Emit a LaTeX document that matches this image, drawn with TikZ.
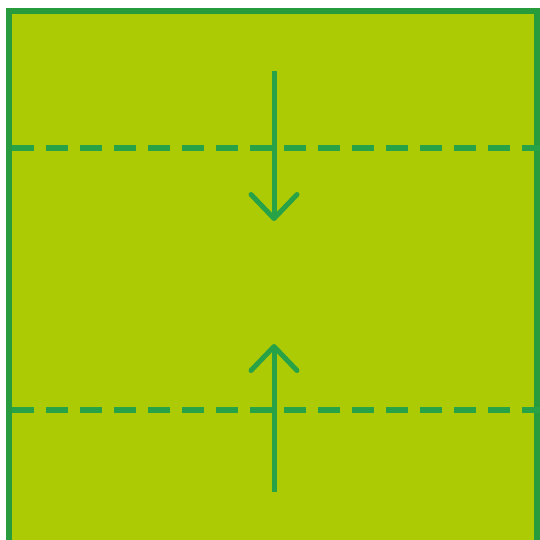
\documentclass[tikz,border=0pt]{standalone}
\usepackage{tikz}
\usetikzlibrary{arrows.meta}
\definecolor{leaf}{RGB}{173,203,5}
\definecolor{fold}{RGB}{40,162,70}
\definecolor{edge}{RGB}{40,156,60}

\begin{document}
\begin{tikzpicture}[x=1pt,y=-1pt]
              \useasboundingbox (0,0) rectangle (540,539);
              \clip (0,0) rectangle (540,539);
              \fill[white] (0,0) rectangle (540,539);
              \draw[edge,fill=leaf,line width=6pt] (9,11) rectangle (537,548);
              % fold lines
              \foreach \y in {148,410}
                \draw[fold,line width=5.5pt,dash pattern=on 22pt off 12pt] (12,\y) -- (540,\y);
              % arrows
              \coordinate (topstart) at (274,71);
              \coordinate (topend) at (274,221);
              \coordinate (botstart) at (274,492);
              \coordinate (botend) at (274,344);
              \draw[fold,line width=5pt,-{Straight Barb[length=24pt,width=46pt,round]}] (topstart) -- (topend);
              \draw[fold,line width=5pt,-{Straight Barb[length=24pt,width=46pt,round]}] (botstart) -- (botend);
            \end{tikzpicture}
\end{document}
